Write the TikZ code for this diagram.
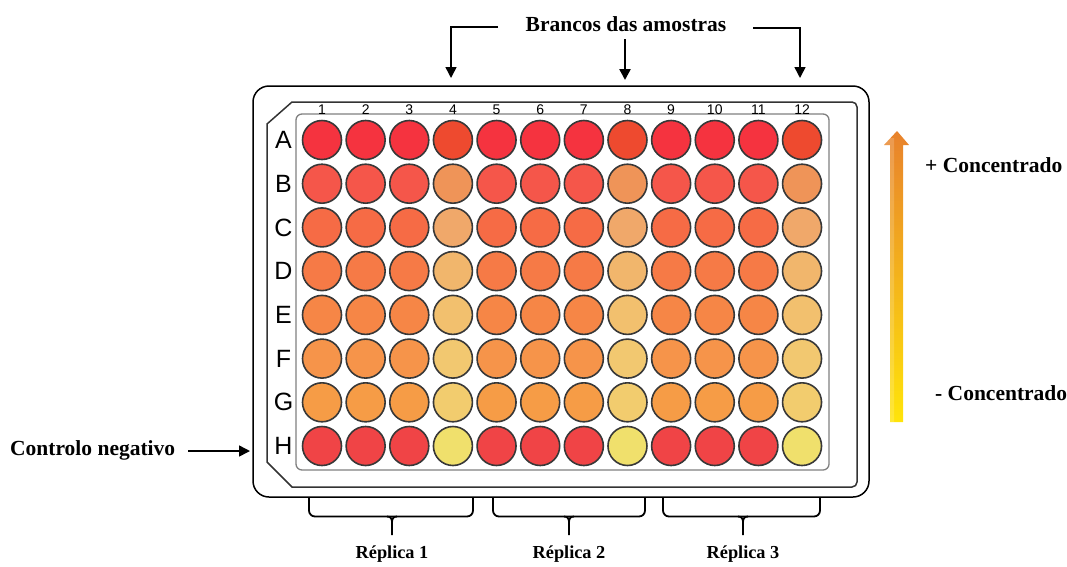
\documentclass[tikz,border=0pt]{standalone}
\usepackage{fontspec}
\setmainfont{Liberation Serif}
\newfontfamily\platefont{Liberation Sans}
\usetikzlibrary{arrows.meta}
\definecolor{rowA}{HTML}{F5333F}\definecolor{blkA}{HTML}{EE4A2F}
\definecolor{rowB}{HTML}{F5564A}\definecolor{blkB}{HTML}{EF9458}
\definecolor{rowC}{HTML}{F66B45}\definecolor{blkC}{HTML}{F0A86A}
\definecolor{rowD}{HTML}{F67A46}\definecolor{blkD}{HTML}{F1B66C}
\definecolor{rowE}{HTML}{F68646}\definecolor{blkE}{HTML}{F2C06E}
\definecolor{rowF}{HTML}{F6944A}\definecolor{blkF}{HTML}{F2C870}
\definecolor{rowG}{HTML}{F69C46}\definecolor{blkG}{HTML}{F2CC6E}
\definecolor{rowH}{HTML}{F04446}\definecolor{blkH}{HTML}{F0E06C}
\definecolor{wellline}{HTML}{383838}
\definecolor{innergray}{HTML}{808080}
\definecolor{gradTop}{HTML}{E8822C}
\definecolor{gradMid}{HTML}{F4AC30}
\definecolor{gradBot}{HTML}{FFE40A}
\tikzset{
  well/.style={circle, draw=wellline, line width=1.6pt, minimum size=39pt, inner sep=0pt},
  rowlbl/.style={font=\platefont\fontsize{25}{25}\selectfont, inner sep=0pt},
  collbl/.style={font=\platefont\fontsize{14}{14}\selectfont, inner sep=0pt},
  lbl/.style={font=\bfseries\fontsize{21.5}{25}\selectfont, inner sep=0pt},
  replbl/.style={font=\bfseries\fontsize{18.3}{21}\selectfont, inner sep=0pt},
  pointer/.style={line width=1.5pt, -{Triangle[length=11pt,width=11pt]}},
  bracepath/.style={line width=1.8pt},
}
\begin{document}
\begin{tikzpicture}[x=1pt,y=-1pt]
\useasboundingbox (0,0) rectangle (1067,566);
% plate outlines
\draw[line width=1.5pt, rounded corners=16pt] (253,86) rectangle (869,497);
\draw[line width=1.5pt, draw=black!80] (292,102) -- (852,102) [rounded corners=5pt] -- (857,102) -- (857,487) [sharp corners] -- (852,487) -- (292,487) -- (267,462) -- (267,124) -- cycle;
\draw[line width=1.3pt, draw=innergray, rounded corners=6pt] (296,114) rectangle (829,470);
% column labels
\foreach \c in {1,...,12} {
  \pgfmathsetmacro\xx{322+(\c-1)*43.64}
  \node[collbl] (col-\c) at (\xx,110) {\c};
}
% rows and wells
\foreach \r/\yy [count=\i] in {A/140,B/183.7,C/227.4,D/271.1,E/314.9,F/358.6,G/402.3,H/446} {
  \node[rowlbl] (row-\r) at (283.5,\yy) {\r};
  \foreach \c in {1,...,12} {
    \pgfmathsetmacro\xx{322+(\c-1)*43.64}
    \pgfmathtruncatemacro\isb{mod(\c,4)==0 ? 1 : 0}
    \ifnum\isb=1 \def\fc{blk\r}\else\def\fc{row\r}\fi
    \node[well, fill=\fc] (w-\r-\c) at (\xx,\yy) {};
  }
}
% top label and arrows
\node[lbl] (blancos) at (626,24) {Brancos das amostras};
\coordinate (bl-s) at (498,27);
\coordinate (bl-e) at (451,78);
\coordinate (bm-s) at (625,39);
\coordinate (bm-e) at (625,80);
\coordinate (br-s) at (753,28);
\coordinate (br-e) at (800,78);
\draw[pointer] (bl-s) -| (bl-e);
\draw[pointer, line width=2.4pt] (bm-s) -- (bm-e);
\draw[pointer] (br-s) -| (br-e);
% negative control
\node[lbl, anchor=west] (ctrl) at (10,450) {Controlo negativo};
\coordinate (ctrl-e) at (250,451);
\draw[pointer] (188,451) -- (ctrl-e);
% gradient arrow
\shade[top color=gradTop, middle color=gradMid, bottom color=gradBot]
  (890,422) -- (890,145) -- (884,145) -- (897,131) -- (909,145) -- (903,145) -- (903,422) -- cycle;
\fill[white, opacity=0.18] (890,422) -- (890,145) -- (884,145) -- (890.5,138) -- (894,138) -- (894,422) -- cycle;
\node[lbl, anchor=west] (maisc) at (925,165) {+ Concentrado};
\node[lbl, anchor=west] (menosc) at (935,393) {- Concentrado};
% braces
\foreach \a/\b/\m/\n in {309/473/392/1, 493/645/569/2, 663/820/743/3} {
  \draw[bracepath, rounded corners=6pt] (\a,498) -- (\a,516.5) -- (\b,516.5) -- (\b,498);
  \draw[bracepath] (\m-5,516.5) .. controls (\m-1.5,516.5) and (\m,518.5) .. (\m,522) -- (\m,535);
  \draw[bracepath] (\m+5,516.5) .. controls (\m+1.5,516.5) and (\m,518.5) .. (\m,522);
  \node[replbl] (rep-\n) at (\m,554) {Réplica \n};
}
\end{tikzpicture}
\end{document}
